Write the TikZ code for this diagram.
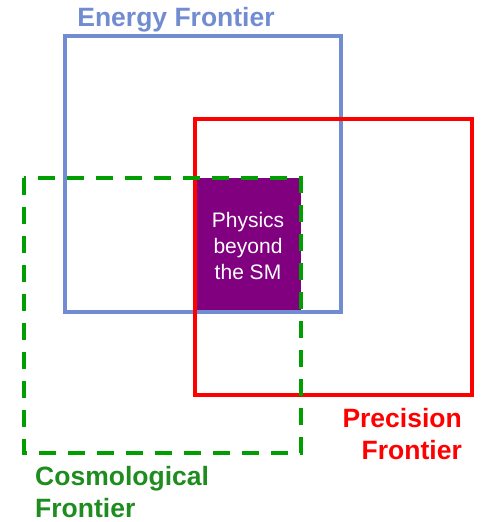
\documentclass[tikz,border=0pt]{standalone}
\usepackage{fontspec}
\setmainfont{Liberation Sans}
\usepackage{xcolor}
\usepackage{tikz}
\usetikzlibrary{positioning, calc}

\definecolor{energyblue}{RGB}{114,140,210}
\definecolor{precred}{RGB}{255,0,0}
\definecolor{cosmogreen}{RGB}{0,158,0}
\definecolor{cosmotext}{RGB}{30,140,30}
\definecolor{bsmpurple}{RGB}{128,0,128}

\begin{document}
\begin{tikzpicture}[
        x=1pt, y=-1pt,
        energy/.style={draw=energyblue, line width=3.2pt},
        precision/.style={draw=precred, line width=3.2pt},
        cosmo/.style={draw=cosmogreen, line width=3.8pt, dash pattern=on 17pt off 12pt},
        bsm/.style={fill=bsmpurple},
        flabel/.style={font=\fontsize{26.5}{32}\selectfont\bfseries, inner sep=0pt},
    ]
    \useasboundingbox (0,0) rectangle (481,522);
    % CORNERS
    \coordinate (e1) at (65,36);  \coordinate (e2) at (341,312);
    \coordinate (p1) at (195,119); \coordinate (p2) at (472,395);
    \coordinate (c1) at (24,178); \coordinate (c2) at (301,453);
    % OVERLAP
    \fill[bsm] (p1 |- c1) rectangle (c2 |- e2);
    \node[text=white, align=center, font=\fontsize{21}{26}\selectfont, inner sep=0pt] (bsmtext) at (248,246) {Physics\\beyond\\the SM};
    % FRONTIERS
    \draw[energy] (e1) rectangle (e2);
    \draw[precision] (p1) rectangle (p2);
    \draw[cosmo] (c1) rectangle (c2);
    % LABELS
    \node[flabel, text=energyblue] (elabel) at (176,20) {Energy Frontier};
    \node[flabel, text=precred, align=right, anchor=east] (plabel) at (462,434) {Precision\\Frontier};
    \node[flabel, text=cosmotext, align=left, anchor=west] (clabel) at (35,492) {Cosmological\\Frontier};
\end{tikzpicture}
\end{document}
